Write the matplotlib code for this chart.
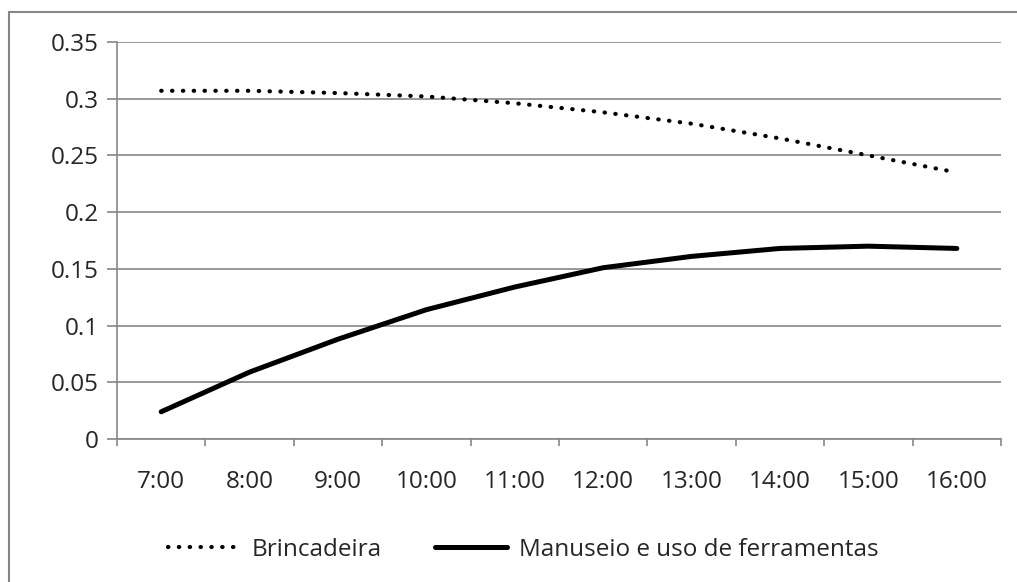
import matplotlib
matplotlib.use("Agg")
import matplotlib.pyplot as plt
import matplotlib.patches as pt
import numpy as np

plt.rcParams["font.family"] = ["Open Sans", "DejaVu Sans"]
FONTSIZE = 17.5
GRAY = "#868686"

hours = ["7:00", "8:00", "9:00", "10:00", "11:00", "12:00", "13:00", "14:00", "15:00", "16:00"]
brincadeira = [0.307, 0.307, 0.305, 0.302, 0.296, 0.288, 0.278, 0.265, 0.250, 0.235]
manuseio = [0.024, 0.059, 0.088, 0.114, 0.134, 0.151, 0.161, 0.168, 0.170, 0.168]
yticks = [0, 0.05, 0.1, 0.15, 0.2, 0.25, 0.3, 0.35]
ytick_labels = ["0", "0.05", "0.1", "0.15", "0.2", "0.25", "0.3", "0.35"]

W, H = 1017, 582
fig = plt.figure(figsize=(W / 100, H / 100), dpi=100)
ax = fig.add_axes([117 / W, 1 - 439 / H, (1001 - 117) / W, (439 - 42) / H])

# outer chart border (right/bottom run off the picture)
fig.patches.append(pt.Rectangle((9 / W, -0.05), 1.1, 1 - 12 / H + 0.05,
                                transform=fig.transFigure, fill=False,
                                edgecolor=GRAY, linewidth=1.5))

x = np.arange(len(hours))
ax.plot(x, brincadeira, color="black", linewidth=3.0, linestyle=(0, (0.1, 2.5)),
        dash_capstyle="round", label="Brincadeira")
ax.plot(x, manuseio, color="black", linewidth=3.6, solid_capstyle="round",
        label="Manuseio e uso de ferramentas")

ax.set_xlim(-0.5, len(hours) - 0.5)
ax.set_ylim(0, 0.35)
ax.set_yticks(yticks)
ax.set_yticklabels(ytick_labels)
ax.yaxis.grid(True, color=GRAY, linewidth=1.2)
ax.set_axisbelow(True)

ax.set_xticks(np.arange(-0.5, len(hours), 1.0))
ax.set_xticklabels([])
ax.set_xticks(x, minor=True)
ax.set_xticklabels(hours, minor=True)
ax.tick_params(axis="x", which="major", length=5, color=GRAY, width=1.2)
ax.tick_params(axis="x", which="minor", length=0, pad=22, labelsize=FONTSIZE, colors="#262626")
ax.tick_params(axis="y", length=7, color=GRAY, width=1.2, pad=6, labelsize=FONTSIZE, labelcolor="#262626")

for s in ["top", "right"]:
    ax.spines[s].set_visible(False)
for s in ["left", "bottom"]:
    ax.spines[s].set_color(GRAY)
    ax.spines[s].set_linewidth(1.2)

fig.legend(loc="center", bbox_to_anchor=(523 / W, 32 / H), ncol=2, frameon=False,
           fontsize=FONTSIZE, handlelength=2.95, handletextpad=0.5, columnspacing=2.2,
           labelcolor="#262626")

fig.savefig("out.png", dpi=100)
